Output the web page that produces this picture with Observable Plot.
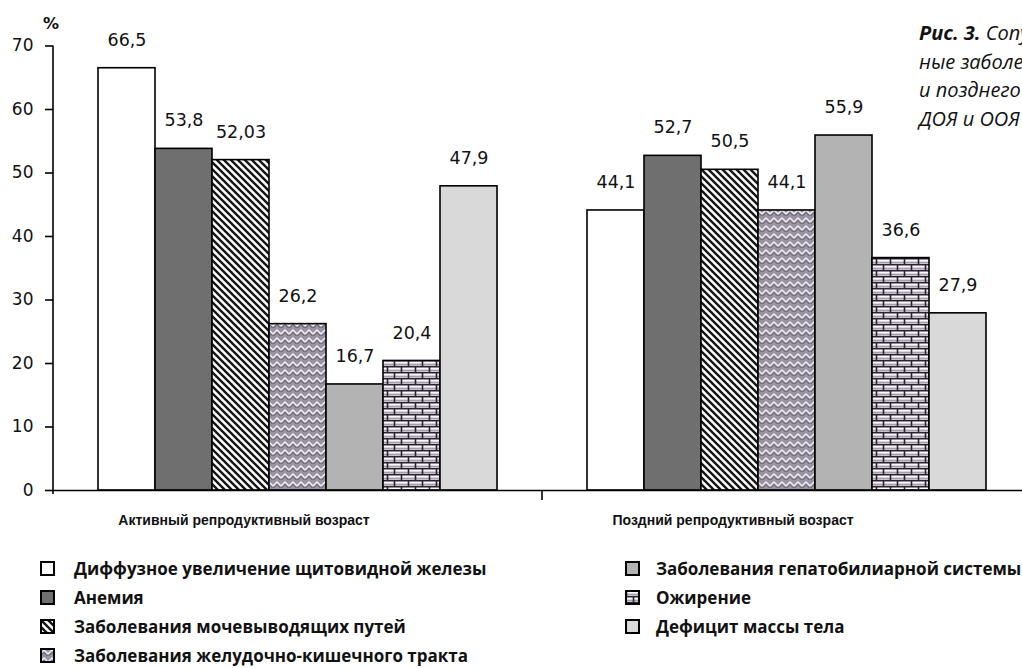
<!DOCTYPE html>
<html><head><meta charset="utf-8">
<script src="https://cdn.jsdelivr.net/npm/d3@7"></script>
<script src="https://cdn.jsdelivr.net/npm/@observablehq/plot@0.6"></script>
<style>
html,body{margin:0;padding:0;background:#fff;overflow:hidden;}
#wrap{position:relative;width:1022px;height:668px;overflow:hidden;background:#fff;}
#chart{position:absolute;left:0;top:0;}
.cap{position:absolute;left:919px;top:19px;font-family:"Open Sans";font-style:italic;font-size:20px;line-height:28.5px;white-space:nowrap;color:#111;}
.cap b{font-weight:700;}
.pct{position:absolute;left:43px;top:14px;font-family:"DejaVu Sans";font-weight:bold;font-size:16px;line-height:20px;color:#111;}
.leg{position:absolute;top:553.5px;font-family:"Open Sans";font-weight:700;font-size:17px;color:#111;white-space:nowrap;}
.leg .row{display:flex;align-items:center;height:29px;}
.leg svg{display:block;flex:none;}
</style>
</head><body>
<svg width="0" height="0" style="position:absolute">
<defs>
<pattern id="p-diag" patternUnits="userSpaceOnUse" width="7" height="7">
<rect width="7" height="7" fill="#fff"/>
<path d="M-1,-1 L8,8 M-1,6 L1,8 M6,-1 L8,1" stroke="#151515" stroke-width="2.4"/>
</pattern>
<pattern id="p-zig" patternUnits="userSpaceOnUse" width="8" height="8">
<rect width="8" height="8" fill="#9a94a1"/>
<path d="M0,6 L4,2 L8,6" fill="none" stroke="#f3f1f5" stroke-width="1.3"/>
<path d="M0,8.5 L4,4.5 L8,8.5" fill="none" stroke="#5d5664" stroke-width="1"/>
</pattern>
<pattern id="p-brick" patternUnits="userSpaceOnUse" width="14" height="12">
<rect width="14" height="12" fill="#fbfafc"/>
<rect y="3.6" width="14" height="2" fill="#a59dad"/>
<rect y="9.6" width="14" height="2" fill="#a59dad"/>
<path d="M0,0.7 H14 M0,6.7 H14" stroke="#2a2230" stroke-width="1.5"/>
<path d="M1.5,0 V6 M8.5,6 V12" stroke="#2a2230" stroke-width="1.6"/>
</pattern>
</defs>
</svg>
<div id="wrap">
<div id="chart"></div>
<div class="pct">%</div>
<div class="cap"><b>Рис. 3.</b> Сопутствующие экстрагениталь-<br>ные заболевания у женщин активного<br>и позднего репродуктивного возраста с<br>ДОЯ и ООЯ</div>
<div class="leg" id="legL" style="left:40px"></div>
<div class="leg" id="legR" style="left:625px"></div>
</div>
<script>
const groups = ["Активный репродуктивный возраст", "Поздний репродуктивный возраст"];
const series = [
  "Диффузное увеличение щитовидной железы",
  "Анемия",
  "Заболевания мочевыводящих путей",
  "Заболевания желудочно-кишечного тракта",
  "Заболевания гепатобилиарной системы",
  "Ожирение",
  "Дефицит массы тела"
];
const activeValues = [66.5, 53.8, 52.03, 26.2, 16.7, 20.4, 47.9];
const lateValues = [44.1, 52.7, 50.5, 44.1, 55.9, 36.6, 27.9];
const yTicks = [0, 10, 20, 30, 40, 50, 60, 70];
const fills = ["#ffffff", "#6f6f6f", "url(#p-diag)", "url(#p-zig)", "#b3b3b3", "url(#p-brick)", "#d9d9d9"];

const valuesByGroup = [activeValues, lateValues];
const table = groups.flatMap((g, gi) => series.map((s, si) => ({group: g, series: s, value: valuesByGroup[gi][si]})));
const fmt = v => String(v).replace(".", ",");

const plot = Plot.plot({
  width: 1022,
  height: 545,
  marginLeft: 52,
  marginRight: -9,
  marginTop: 45.5,
  marginBottom: 55,
  style: {background: "transparent", overflow: "visible", maxWidth: "none"},
  fx: {domain: groups, padding: 0, axis: null},
  x: {domain: series, paddingInner: 0, paddingOuter: 0.74, axis: null},
  y: {domain: [0, 70]},
  color: {domain: series, range: fills},
  marks: [
    Plot.axisY({ticks: yTicks, tickSize: 8, tickPadding: 12, fontSize: 17, fontFamily: "DejaVu Sans", fill: "#111", strokeWidth: 1.6, label: null, tickFormat: d => String(d)}),
    Plot.barY(table, {fx: "group", x: "series", y: "value", fill: "series", stroke: "#000", strokeWidth: 1.6}),
    Plot.text(table, {fx: "group", x: "series", y: "value", text: d => fmt(d.value), dy: -28, fontSize: 17.5, fontFamily: "DejaVu Sans", fill: "#111"}),
    Plot.ruleY([0], {stroke: "#000", strokeWidth: 1.6}),
    Plot.text(groups, {fx: d => d, text: d => d, frameAnchor: "bottom", dy: 34, dx: -54, fontWeight: "bold", fontSize: 14, fontFamily: "Liberation Sans", fill: "#111"})
  ]
});

// axis line and group separator tick, positioned via the plot's scales
const ys = plot.scale("y"), fxs = plot.scale("fx");
const svg = d3.select(plot);
const xa = fxs.apply(groups[0]), xb = fxs.apply(groups[1]);
svg.append("line").attr("x1", xa).attr("x2", xa).attr("y1", ys.apply(70)).attr("y2", ys.apply(0) + 4).attr("stroke", "#000").attr("stroke-width", 1.6);
svg.append("line").attr("x1", xb).attr("x2", xb).attr("y1", ys.apply(0)).attr("y2", ys.apply(0) + 10).attr("stroke", "#000").attr("stroke-width", 1.6);
document.getElementById("chart").appendChild(plot);

function legendRow(i, gap) {
  const row = document.createElement("div");
  row.className = "row";
  row.innerHTML = `<svg width="15" height="15" style="margin-right:${gap}px"><rect x="1" y="1" width="13" height="13" fill="${fills[i]}" stroke="#000" stroke-width="2"/></svg><span>${series[i]}</span>`;
  return row;
}
const legL = document.getElementById("legL"), legR = document.getElementById("legR");
[0, 1, 2, 3].forEach(i => legL.appendChild(legendRow(i, 19)));
[4, 5, 6].forEach(i => legR.appendChild(legendRow(i, 16)));
</script>
</body></html>
